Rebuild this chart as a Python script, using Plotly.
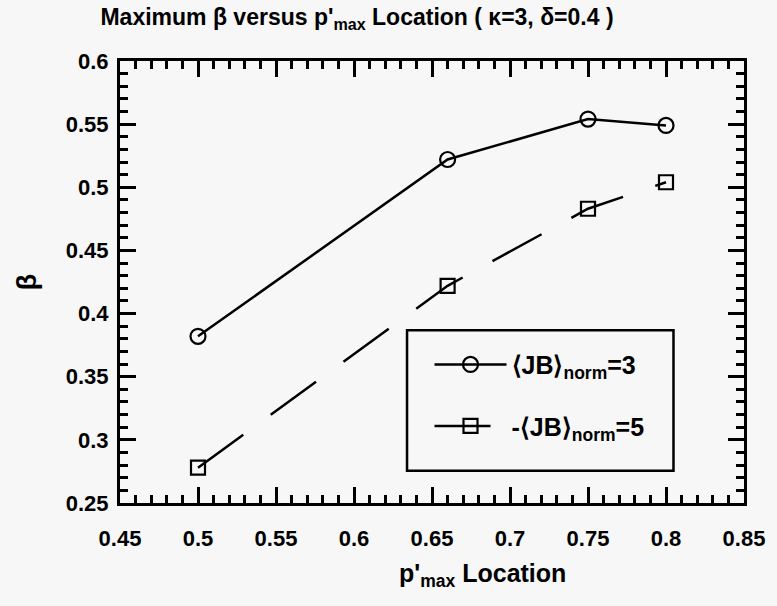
import plotly.graph_objects as go

x_vals = [0.5, 0.66, 0.75, 0.8]
beta_jb3 = [0.382, 0.522, 0.554, 0.549]
beta_jb5 = [0.278, 0.422, 0.483, 0.504]
x_ticks = [0.45, 0.5, 0.55, 0.6, 0.65, 0.7, 0.75, 0.8, 0.85]
y_ticks = [0.25, 0.3, 0.35, 0.4, 0.45, 0.5, 0.55, 0.6]

FONT = "Liberation Sans, Arial, sans-serif"

fig = go.Figure()
fig.add_trace(go.Scatter(
    x=x_vals, y=beta_jb3, mode="lines+markers",
    name="\u27e8JB\u27e9<sub>norm</sub>=3", legendgroup="a",
    line=dict(color="black", width=2.5),
    marker=dict(symbol="circle-open", size=15, color="black", line=dict(width=2.2)),
))
fig.add_trace(go.Scatter(
    x=x_vals, y=beta_jb5, mode="lines+markers",
    name="-\u27e8JB\u27e9<sub>norm</sub>=5", legendgroup="b",
    line=dict(color="black", width=2.5, dash="56px,34px"),
    marker=dict(symbol="square-open", size=14, color="black", line=dict(width=2.2)),
))

axis_common = dict(
    showgrid=False, zeroline=False, showline=True, linecolor="black", linewidth=3,
    mirror="ticks", ticks="inside", ticklen=16, tickwidth=2.5, tickcolor="black",
    tickfont=dict(family=FONT, size=22, color="black", weight="bold"),
)

fig.update_xaxes(
    range=[0.45, 0.85], tickvals=x_ticks, ticktext=[f"{v:g}" for v in x_ticks],
    minor=dict(ticks="inside", dtick=0.01, ticklen=8, tickwidth=2.5, tickcolor="black"),
    ticklabelstandoff=14,
    **axis_common,
)
fig.update_yaxes(
    range=[0.25, 0.6], tickvals=y_ticks, ticktext=[f"{v:g}" for v in y_ticks],
    minor=dict(ticks="inside", dtick=0.01, ticklen=8, tickwidth=2.5, tickcolor="black"),
    ticklabelstandoff=4,
    title=dict(text="\u03b2", font=dict(family=FONT, size=27, color="black", weight="bold"), standoff=22),
    **axis_common,
)

fig.add_shape(type="rect", xref="paper", yref="paper",
              x0=0.46, x1=0.887, y0=0.073, y1=0.391,
              line=dict(color="black", width=2.5), fillcolor="rgba(0,0,0,0)")

fig.add_annotation(
    text="p'<sub>max</sub> Location", xref="paper", yref="paper",
    x=(489 - 120) / 635, y=(503 - 575) / 442, xanchor="center", yanchor="middle",
    showarrow=False, font=dict(family=FONT, size=25, color="black", weight="bold"),
)

fig.update_layout(
    width=777, height=606,
    margin=dict(l=120, r=22, t=61, b=103),
    paper_bgcolor="#f7f7f7", plot_bgcolor="#f7f7f7",
    font=dict(family=FONT, color="black"),
    title=dict(text="Maximum \u03b2 versus p'<sub>max</sub> Location ( \u03ba=3, \u03b4=0.4 )",
               font=dict(family=FONT, size=23, color="black", weight="bold"),
               x=357 / 777, xanchor="center", y=0.985, yanchor="top"),
    legend=dict(x=0.496, y=0.365, xanchor="left", yanchor="top",
                bgcolor="rgba(0,0,0,0)", borderwidth=0,
                font=dict(family=FONT, size=25, color="black", weight="bold"),
                tracegroupgap=26, itemwidth=72),
    showlegend=True,
)

fig.write_html("out.html")
